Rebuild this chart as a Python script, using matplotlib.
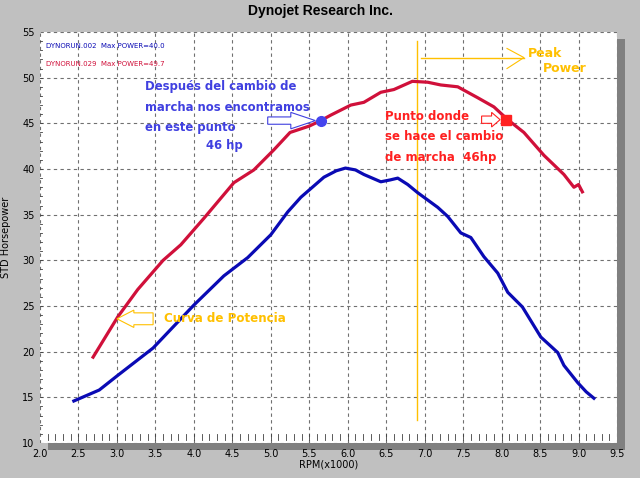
import matplotlib.pyplot as plt
from matplotlib.patches import Rectangle, FancyArrow

# run 002 (blue)
rpm_002 = [2.44, 2.77, 3.01, 3.47, 4.0, 4.39, 4.7, 5.0, 5.22, 5.39, 5.69, 5.85, 5.97, 6.1, 6.21,
           6.43, 6.55, 6.65, 6.78, 6.91, 7.17, 7.3, 7.47, 7.6, 7.77, 7.95, 8.08, 8.27, 8.51, 8.73,
           8.81, 8.99, 9.1, 9.2]
hp_002 = [14.6, 15.8, 17.4, 20.4, 25.1, 28.3, 30.3, 32.8, 35.3, 36.9, 39.1, 39.8, 40.1, 39.9, 39.4,
          38.6, 38.8, 39.0, 38.3, 37.4, 35.8, 34.8, 33.0, 32.5, 30.4, 28.6, 26.5, 24.9, 21.6, 19.9,
          18.5, 16.6, 15.6, 14.9]

# run 029 (red)
rpm_029 = [2.69, 3.01, 3.27, 3.6, 3.83, 4.13, 4.52, 4.78, 5.04, 5.25, 5.5, 5.65, 5.78, 6.04, 6.21,
           6.43, 6.6, 6.84, 7.04, 7.21, 7.43, 7.69, 7.9, 8.08, 8.29, 8.55, 8.81, 8.94, 9.0, 9.05]
hp_029 = [19.4, 23.8, 26.8, 30.0, 31.7, 34.6, 38.5, 39.9, 42.1, 44.0, 44.7, 45.3, 45.9, 47.0, 47.3,
          48.4, 48.7, 49.6, 49.5, 49.2, 49.0, 47.8, 46.8, 45.4, 44.0, 41.5, 39.4, 38.0, 38.3, 37.5]

shift_after = (5.65, 45.3)
shift_point = (8.06, 45.4)
peak_rpm = 6.9

blue = '#0a0ab4'
red = '#d0103a'
orange = '#ffc000'
bg = '#c0c0c0'

fig = plt.figure(figsize=(6.4, 4.78), dpi=100, facecolor=bg)
ax = fig.add_axes([40 / 640, 35 / 478, 577 / 640, 411 / 478])
# shadow
fig.patches.append(Rectangle((48 / 640, 28 / 478), 577 / 640, 411 / 478, transform=fig.transFigure,
                             facecolor='#808080', edgecolor='none', zorder=-1))

ax.plot(rpm_002, hp_002, color=blue, lw=2.3, zorder=3)
ax.plot(rpm_029, hp_029, color=red, lw=2.3, zorder=3)

ax.set_xlim(2.0, 9.5)
ax.set_ylim(10, 55)
ax.set_xticks([2.0 + 0.5 * i for i in range(16)])
ax.set_xticklabels(['%.1f' % (2.0 + 0.5 * i) for i in range(16)], fontsize=7)
ax.set_yticks(range(10, 56, 5))
ax.set_yticklabels([str(v) for v in range(10, 56, 5)], fontsize=7)
ax.grid(True, ls=(0, (3, 3)), color='#707070', lw=0.8)
ax.tick_params(length=0, pad=4)
for s in ax.spines.values():
    s.set_visible(False)
# minor ticks along bottom and left
for i in range(21, 95):
    x = i / 10
    ax.plot([x, x], [10.3, 11.0], color='#404040', lw=0.6)
for i in range(11, 55):
    ax.plot([2.0, 2.03], [i, i], color='#404040', lw=0.6)

ax.set_xlabel('RPM(x1000)', fontsize=7, labelpad=1)
ax.set_ylabel('STD Horsepower', fontsize=7, labelpad=8)
fig.text(0.5, 0.978, 'Dynojet Research Inc.', ha='center', va='center', fontsize=10,
         fontweight='bold', family='Liberation Sans')

ax.text(2.08, 53.3, 'DYNORUN.002  Max POWER=40.0', color=blue, fontsize=5)
ax.text(2.08, 51.3, 'DYNORUN.029  Max POWER=49.7', color=red, fontsize=5)

# peak power markers
ax.plot([peak_rpm, peak_rpm], [12.5, 54], color=orange, lw=1)
ax.plot([6.95, 8.29], [52.2, 52.2], color=orange, lw=1)
ax.plot([8.07, 8.29, 8.07], [53.2, 52.2, 51.0], color=orange, lw=0.8)
ax.text(8.34, 52.7, 'Peak', color=orange, fontsize=9, fontweight='bold', va='center')
ax.text(8.54, 51.0, 'Power', color=orange, fontsize=9, fontweight='bold', va='center')

# shift points
ax.plot(*shift_after, 'o', color='#4444ee', ms=7, zorder=4)
ax.plot(*shift_point, 's', color='#ff2020', ms=7, zorder=4)
ax.add_patch(FancyArrow(4.96, 45.3, 0.62, 0, width=0.8, head_width=1.8, head_length=0.32,
                        fc='white', ec='#4040e0', lw=0.8, length_includes_head=True, zorder=4))
ax.add_patch(FancyArrow(7.74, 45.4, 0.24, 0, width=0.8, head_width=1.6, head_length=0.11,
                        fc='white', ec='#ff2020', lw=0.8, length_includes_head=True, zorder=4))
ax.add_patch(FancyArrow(3.47, 23.6, -0.47, 0, width=1.3, head_width=1.9, head_length=0.22,
                        fc='white', ec=orange, lw=0.8, length_includes_head=True, zorder=4))

ax.text(3.36, 49.7, 'Después del cambio de\nmarcha nos encontramos\nen este punto', color='#4040e0',
        fontsize=8.4, fontweight='bold', va='top', linespacing=1.75)
ax.text(4.16, 43.3, '46 hp', color='#4040e0', fontsize=8.4, fontweight='bold', va='top')
ax.text(6.49, 46.5, 'Punto donde\nse hace el cambio\nde marcha  46hp', color='#ff2020',
        fontsize=8.5, fontweight='bold', va='top', linespacing=1.75)
ax.text(3.61, 23.6, 'Curva de Potencia', color=orange, fontsize=8.6, fontweight='bold', va='center')

fig.savefig('out.png', dpi=100, facecolor=bg)
